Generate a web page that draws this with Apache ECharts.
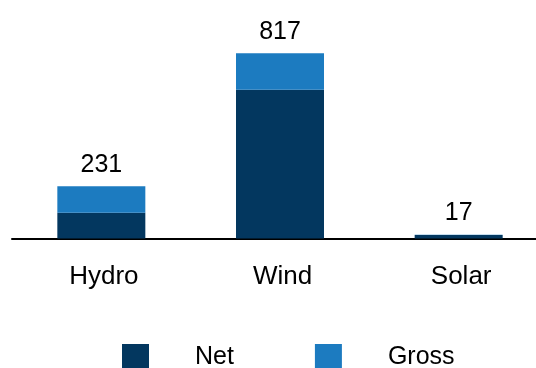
<!DOCTYPE html>
<html>
<head>
<meta charset="utf-8">
<script src="https://cdn.jsdelivr.net/npm/echarts@6/dist/echarts.min.js"></script>
<style>
  html, body { margin: 0; padding: 0; background: #ffffff; overflow: hidden; }
  /* the category band of the last bar runs past the right edge of the view */
  #chart { width: 548px; height: 368px; }
</style>
</head>
<body>
<div id="chart"></div>
<script>
// Capacity by technology: net portion and gross total
const categories = ['Hydro', 'Wind', 'Solar'];
const netValues = [114, 656, 15];
const grossTotals = [231, 817, 17];

// The upper segment fills the gap between net and gross
const grossExtra = grossTotals.map((g, i) => g - netValues[i]);

const FONT = '"Liberation Sans", Arial, sans-serif';
const NET_COLOR = '#03375f';
const GROSS_COLOR = '#1c7bc0';

const chart = echarts.init(document.getElementById('chart'), null, { renderer: 'canvas' });

chart.setOption({
  animation: false,
  backgroundColor: '#ffffff',
  textStyle: { fontFamily: FONT },
  grid: { left: 12, right: 0, top: 11.8, height: 226.7, containLabel: false },
  legend: {
    left: 117,
    top: 339,
    itemWidth: 27,
    itemHeight: 27,
    itemGap: 81,
    icon: 'rect',
    textStyle: { fontFamily: FONT, fontSize: 25, color: '#000', padding: [0, 0, 0, 41] },
    data: ['Net', 'Gross']
  },
  xAxis: {
    type: 'category',
    data: categories,
    axisLine: { show: true, lineStyle: { color: '#000', width: 2 } },
    axisTick: { show: false },
    axisLabel: { fontFamily: FONT, fontSize: 26, color: '#000', margin: 25, padding: [0, 0, 0, 5] }
  },
  yAxis: {
    type: 'value',
    min: 0,
    max: 1000,
    show: false,
    splitLine: { show: false }
  },
  series: [
    {
      name: 'Net',
      type: 'bar',
      stack: 'total',
      barWidth: 88,
      itemStyle: { color: NET_COLOR },
      data: netValues
    },
    {
      name: 'Gross',
      type: 'bar',
      stack: 'total',
      barWidth: 88,
      itemStyle: { color: GROSS_COLOR },
      label: {
        show: true,
        position: 'top',
        distance: 9,
        fontFamily: FONT,
        fontSize: 25,
        color: '#000',
        formatter: p => String(grossTotals[p.dataIndex])
      },
      data: grossExtra
    }
  ]
});
</script>
</body>
</html>
